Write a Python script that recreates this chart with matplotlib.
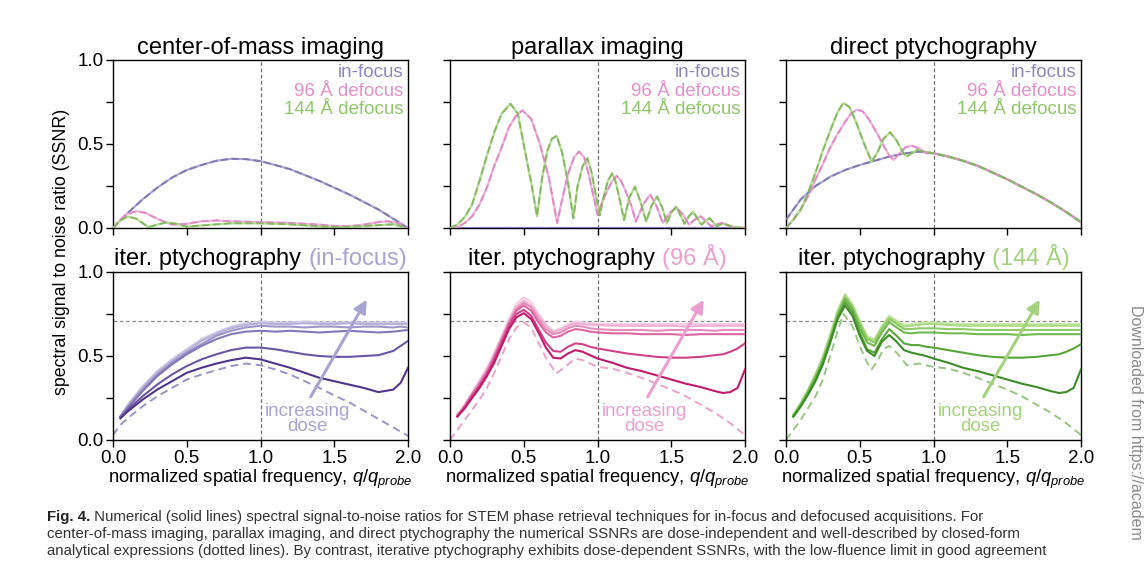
import matplotlib
matplotlib.use('Agg')
import matplotlib.pyplot as plt
from matplotlib.offsetbox import TextArea, HPacker, AnchoredOffsetbox

plt.rcParams['font.family'] = ['Liberation Sans', 'DejaVu Sans']
plt.rcParams['mathtext.fontset'] = 'custom'
plt.rcParams['mathtext.it'] = 'Liberation Sans:italic'
plt.rcParams['mathtext.rm'] = 'Liberation Sans'

# ---------------- data ----------------
# top row: center-of-mass imaging
com_x_if = [0.0, 0.1, 0.2, 0.3, 0.4, 0.5, 0.6, 0.7, 0.8, 0.9, 1.0, 1.1, 1.2, 1.3, 1.4, 1.5, 1.6, 1.7, 1.8, 1.9, 2.0]
com_y_if = [0.0, 0.09, 0.17, 0.24, 0.30, 0.345, 0.375, 0.40, 0.412, 0.41, 0.398, 0.375, 0.35, 0.315, 0.28, 0.24, 0.20, 0.155, 0.11, 0.055, 0.0]
com_x_96 = [0.0, 0.05, 0.1, 0.16, 0.22, 0.3, 0.4, 0.5, 0.6, 0.7, 0.8, 1.0, 1.2, 1.4, 1.5, 1.6, 1.7, 1.8, 1.86, 1.93, 2.0]
com_y_96 = [0.0, 0.05, 0.085, 0.10, 0.09, 0.055, 0.02, 0.025, 0.04, 0.045, 0.04, 0.035, 0.03, 0.02, 0.012, 0.01, 0.02, 0.035, 0.04, 0.03, 0.0]
com_x_144 = [0.0, 0.05, 0.1, 0.16, 0.24, 0.3, 0.36, 0.43, 0.5, 0.6, 0.8, 1.0, 1.2, 1.4, 1.55, 1.7, 1.9, 2.0]
com_y_144 = [0.0, 0.045, 0.068, 0.055, 0.005, 0.02, 0.033, 0.025, 0.008, 0.015, 0.028, 0.028, 0.022, 0.01, 0.005, 0.012, 0.022, 0.0]

# top row: parallax imaging
par_x_if = [0.0, 2.0]
par_y_if = [0.0, 0.0]
par_x_96 = [0.0, 0.05, 0.1, 0.15, 0.2, 0.25, 0.3, 0.35, 0.4, 0.45, 0.49, 0.55, 0.61, 0.67, 0.727,
            0.76, 0.80, 0.84, 0.875, 0.91, 0.94, 0.97, 1.0, 1.03, 1.065, 1.10, 1.13, 1.16, 1.195, 1.23,
            1.26, 1.31, 1.357, 1.40, 1.443, 1.49, 1.534, 1.58, 1.62, 1.66, 1.70, 1.77, 1.84, 1.92, 2.0]
par_y_96 = [0.0, 0.005, 0.03, 0.07, 0.14, 0.24, 0.37, 0.48, 0.60, 0.67, 0.70, 0.65, 0.50, 0.30, 0.03,
            0.17, 0.32, 0.42, 0.455, 0.42, 0.32, 0.20, 0.08, 0.15, 0.22, 0.28, 0.31, 0.28, 0.21, 0.13,
            0.038, 0.14, 0.20, 0.13, 0.03, 0.09, 0.123, 0.08, 0.02, 0.05, 0.07, 0.01, 0.03, 0.005, 0.0]
par_x_144 = [0.0, 0.05, 0.1, 0.15, 0.2, 0.25, 0.3, 0.35, 0.41, 0.46, 0.51, 0.555, 0.59, 0.625, 0.66,
             0.69, 0.723, 0.76, 0.80, 0.836, 0.865, 0.90, 0.932, 0.96, 0.99, 1.016, 1.04, 1.07, 1.10, 1.125,
             1.155, 1.18, 1.215, 1.254, 1.29, 1.33, 1.365, 1.404, 1.44, 1.47, 1.50, 1.534, 1.56, 1.59, 1.62,
             1.648, 1.675, 1.705, 1.73, 1.76, 1.81, 1.85, 1.92, 2.0]
par_y_144 = [0.0, 0.02, 0.065, 0.14, 0.28, 0.43, 0.57, 0.68, 0.74, 0.68, 0.45, 0.25, 0.07, 0.30, 0.46,
             0.53, 0.548, 0.45, 0.27, 0.058, 0.25, 0.37, 0.415, 0.33, 0.19, 0.077, 0.18, 0.28, 0.325, 0.27,
             0.15, 0.048, 0.18, 0.246, 0.16, 0.038, 0.13, 0.187, 0.12, 0.028, 0.09, 0.127, 0.08, 0.025, 0.07,
             0.097, 0.06, 0.02, 0.04, 0.058, 0.01, 0.028, 0.005, 0.0]

# top row: direct ptychography
dir_x_if = [0.0, 0.1, 0.2, 0.3, 0.4, 0.5, 0.6, 0.7, 0.8, 0.9, 1.0, 1.1, 1.2, 1.3, 1.4, 1.5, 1.6, 1.7, 1.8, 1.9, 2.0]
dir_y_if = [0.05, 0.17, 0.25, 0.305, 0.345, 0.375, 0.40, 0.425, 0.443, 0.455, 0.445, 0.425, 0.40, 0.37, 0.33, 0.29, 0.245, 0.20, 0.15, 0.095, 0.035]
dir_x_96 = [0.0, 0.05, 0.1, 0.15, 0.2, 0.25, 0.3, 0.35, 0.4, 0.44, 0.48, 0.52, 0.56, 0.6, 0.65, 0.7, 0.73,
            0.77, 0.81, 0.853, 0.9, 0.955, 1.0, 1.1, 1.2, 1.3, 1.4, 1.5, 1.6, 1.7, 1.8, 1.9, 2.0]
dir_y_96 = [0.0, 0.05, 0.11, 0.19, 0.29, 0.38, 0.48, 0.56, 0.63, 0.68, 0.705, 0.695, 0.65, 0.59, 0.51, 0.43, 0.405,
            0.445, 0.48, 0.49, 0.475, 0.445, 0.445, 0.425, 0.40, 0.37, 0.33, 0.29, 0.245, 0.20, 0.15, 0.095, 0.035]
dir_x_144 = [0.0, 0.05, 0.1, 0.15, 0.2, 0.25, 0.3, 0.35, 0.389, 0.43, 0.48, 0.53, 0.581, 0.62, 0.66, 0.706,
             0.75, 0.8, 0.82, 0.85, 0.887, 0.93, 1.0, 1.1, 1.2, 1.3, 1.4, 1.5, 1.6, 1.7, 1.8, 1.9, 2.0]
dir_y_144 = [0.0, 0.05, 0.11, 0.21, 0.33, 0.46, 0.58, 0.69, 0.745, 0.72, 0.62, 0.50, 0.395, 0.45, 0.53, 0.57,
             0.52, 0.44, 0.425, 0.445, 0.465, 0.455, 0.445, 0.425, 0.40, 0.37, 0.33, 0.29, 0.245, 0.20, 0.15, 0.095, 0.035]

# bottom row: iterative ptychography, in-focus
itf_x_an = [0.0, 0.05, 0.1, 0.2, 0.3, 0.4, 0.5, 0.6, 0.7, 0.8, 0.9, 1.0, 1.1, 1.2, 1.3, 1.4, 1.5, 1.6, 1.7, 1.8, 1.9, 2.0]
itf_y_an = [0.03, 0.09, 0.13, 0.20, 0.26, 0.31, 0.36, 0.39, 0.415, 0.44, 0.455, 0.445, 0.42, 0.39, 0.35, 0.31, 0.265, 0.225, 0.175, 0.125, 0.075, 0.025]
itf_x = [0.05, 0.1, 0.2, 0.3, 0.4, 0.5, 0.6, 0.7, 0.8, 0.9, 1.0, 1.1, 1.2, 1.3, 1.4, 1.5, 1.6, 1.7, 1.8, 1.9, 1.95, 2.0]
itf_dose = [
    [0.13, 0.17, 0.24, 0.30, 0.35, 0.40, 0.43, 0.455, 0.475, 0.49, 0.48, 0.455, 0.43, 0.40, 0.37, 0.35, 0.33, 0.31, 0.285, 0.30, 0.34, 0.43],
    [0.13, 0.18, 0.26, 0.33, 0.39, 0.44, 0.48, 0.51, 0.535, 0.55, 0.55, 0.54, 0.525, 0.51, 0.50, 0.495, 0.495, 0.50, 0.505, 0.53, 0.56, 0.59],
    [0.14, 0.19, 0.29, 0.38, 0.45, 0.51, 0.56, 0.60, 0.63, 0.645, 0.65, 0.645, 0.65, 0.645, 0.64, 0.645, 0.65, 0.645, 0.64, 0.645, 0.65, 0.655],
    [0.14, 0.20, 0.30, 0.39, 0.46, 0.52, 0.57, 0.62, 0.65, 0.67, 0.68, 0.675, 0.675, 0.67, 0.675, 0.675, 0.67, 0.675, 0.675, 0.67, 0.675, 0.67],
    [0.14, 0.20, 0.31, 0.40, 0.47, 0.53, 0.59, 0.63, 0.665, 0.685, 0.695, 0.69, 0.69, 0.695, 0.69, 0.69, 0.695, 0.69, 0.69, 0.69, 0.69, 0.69],
    [0.14, 0.21, 0.32, 0.41, 0.48, 0.54, 0.60, 0.64, 0.675, 0.695, 0.705, 0.70, 0.70, 0.705, 0.70, 0.70, 0.70, 0.70, 0.70, 0.70, 0.70, 0.70],
]

# bottom row: iterative ptychography, 96 A defocus
it96_x_an = [0.0, 0.05, 0.1, 0.15, 0.2, 0.25, 0.3, 0.35, 0.4, 0.45, 0.5, 0.55, 0.6, 0.65, 0.72, 0.8, 0.85, 0.9, 0.95, 1.0,
             1.1, 1.2, 1.3, 1.4, 1.5, 1.6, 1.7, 1.8, 1.9, 2.0]
it96_y_an = [0.0, 0.06, 0.12, 0.18, 0.24, 0.31, 0.40, 0.50, 0.60, 0.67, 0.70, 0.67, 0.58, 0.49, 0.395, 0.45, 0.485, 0.475, 0.455, 0.435,
             0.425, 0.40, 0.37, 0.335, 0.30, 0.26, 0.21, 0.16, 0.10, 0.03]
it_x = [0.05, 0.1, 0.15, 0.2, 0.25, 0.3, 0.35, 0.4, 0.45, 0.5, 0.55, 0.6, 0.65, 0.7, 0.75, 0.8, 0.85, 0.9, 0.95, 1.0,
        1.1, 1.2, 1.3, 1.4, 1.5, 1.6, 1.7, 1.8, 1.85, 1.9, 1.95, 2.0]
it96_dose = [
    [0.14, 0.19, 0.25, 0.31, 0.38, 0.46, 0.56, 0.66, 0.73, 0.755, 0.72, 0.64, 0.55, 0.49, 0.485, 0.515, 0.535, 0.525, 0.505, 0.485,
     0.46, 0.43, 0.41, 0.385, 0.36, 0.335, 0.315, 0.29, 0.28, 0.285, 0.31, 0.42],
    [0.14, 0.19, 0.26, 0.32, 0.39, 0.48, 0.58, 0.68, 0.75, 0.775, 0.74, 0.66, 0.58, 0.53, 0.525, 0.555, 0.575, 0.57, 0.555, 0.545,
     0.53, 0.515, 0.505, 0.495, 0.49, 0.49, 0.495, 0.505, 0.51, 0.525, 0.545, 0.575],
    [0.14, 0.20, 0.27, 0.33, 0.40, 0.49, 0.59, 0.69, 0.77, 0.80, 0.77, 0.70, 0.64, 0.61, 0.62, 0.645, 0.66, 0.655, 0.645, 0.64,
     0.635, 0.635, 0.63, 0.63, 0.63, 0.625, 0.63, 0.63, 0.63, 0.63, 0.63, 0.63],
    [0.15, 0.20, 0.27, 0.34, 0.41, 0.50, 0.60, 0.70, 0.78, 0.815, 0.79, 0.72, 0.66, 0.63, 0.64, 0.665, 0.68, 0.675, 0.665, 0.66,
     0.655, 0.655, 0.655, 0.65, 0.655, 0.655, 0.655, 0.65, 0.655, 0.655, 0.655, 0.655],
    [0.15, 0.21, 0.28, 0.35, 0.42, 0.51, 0.61, 0.71, 0.79, 0.83, 0.80, 0.74, 0.68, 0.64, 0.655, 0.68, 0.695, 0.69, 0.685, 0.685,
     0.68, 0.68, 0.68, 0.68, 0.68, 0.675, 0.68, 0.68, 0.68, 0.68, 0.68, 0.68],
    [0.15, 0.21, 0.28, 0.35, 0.43, 0.52, 0.62, 0.72, 0.81, 0.85, 0.82, 0.75, 0.69, 0.65, 0.665, 0.69, 0.705, 0.70, 0.695, 0.69,
     0.69, 0.69, 0.69, 0.69, 0.69, 0.69, 0.69, 0.69, 0.69, 0.69, 0.69, 0.69],
]

# bottom row: iterative ptychography, 144 A defocus
it144_x_an = [0.0, 0.05, 0.1, 0.15, 0.2, 0.25, 0.3, 0.35, 0.39, 0.45, 0.5, 0.55, 0.58, 0.62, 0.66, 0.7, 0.75, 0.82, 0.9, 1.0,
              1.1, 1.2, 1.3, 1.4, 1.5, 1.6, 1.7, 1.8, 1.9, 2.0]
it144_y_an = [0.0, 0.06, 0.12, 0.19, 0.26, 0.36, 0.50, 0.65, 0.75, 0.68, 0.56, 0.46, 0.42, 0.47, 0.54, 0.56, 0.52, 0.445, 0.455, 0.435,
              0.425, 0.40, 0.37, 0.335, 0.30, 0.26, 0.21, 0.16, 0.10, 0.03]
it144_dose = [
    [0.14, 0.20, 0.27, 0.35, 0.45, 0.58, 0.72, 0.80, 0.74, 0.62, 0.53, 0.50, 0.585, 0.625, 0.585, 0.535, 0.52, 0.51, 0.50, 0.485,
     0.46, 0.43, 0.41, 0.385, 0.36, 0.335, 0.315, 0.29, 0.28, 0.285, 0.31, 0.42],
    [0.14, 0.20, 0.28, 0.36, 0.46, 0.59, 0.73, 0.82, 0.76, 0.64, 0.54, 0.52, 0.60, 0.66, 0.62, 0.575, 0.565, 0.565, 0.555, 0.55,
     0.535, 0.52, 0.505, 0.495, 0.49, 0.49, 0.495, 0.505, 0.51, 0.525, 0.545, 0.57],
    [0.14, 0.21, 0.28, 0.37, 0.47, 0.60, 0.74, 0.84, 0.78, 0.67, 0.58, 0.56, 0.64, 0.70, 0.67, 0.64, 0.635, 0.64, 0.64, 0.64,
     0.635, 0.635, 0.63, 0.63, 0.63, 0.625, 0.63, 0.63, 0.63, 0.63, 0.63, 0.63],
    [0.15, 0.21, 0.29, 0.38, 0.48, 0.61, 0.75, 0.85, 0.79, 0.69, 0.60, 0.58, 0.66, 0.72, 0.69, 0.66, 0.66, 0.665, 0.665, 0.665,
     0.66, 0.66, 0.655, 0.655, 0.655, 0.655, 0.655, 0.655, 0.655, 0.655, 0.655, 0.655],
    [0.15, 0.22, 0.30, 0.39, 0.49, 0.62, 0.76, 0.86, 0.80, 0.70, 0.61, 0.59, 0.67, 0.73, 0.70, 0.675, 0.68, 0.685, 0.69, 0.69,
     0.685, 0.68, 0.68, 0.68, 0.68, 0.68, 0.68, 0.68, 0.68, 0.68, 0.68, 0.68],
    [0.15, 0.22, 0.30, 0.39, 0.50, 0.63, 0.77, 0.87, 0.81, 0.71, 0.62, 0.60, 0.68, 0.74, 0.71, 0.685, 0.69, 0.695, 0.70, 0.70,
     0.695, 0.69, 0.69, 0.69, 0.69, 0.69, 0.69, 0.69, 0.69, 0.69, 0.69, 0.69],
]

top_titles = ['center-of-mass imaging', 'parallax imaging', 'direct ptychography']
legend_labels = ['in-focus', '96 Å defocus', '144 Å defocus']
bottom_title_main = 'iter. ptychography'
bottom_title_tags = ['(in-focus)', '(96 Å)', '(144 Å)']
x_ticks = [0.0, 0.5, 1.0, 1.5, 2.0]
x_tick_labels = ['0.0', '0.5', '1.0', '1.5', '2.0']
y_ticks = [0.0, 0.5, 1.0]
y_tick_labels = ['0.0', '0.5', '1.0']
y_minor = [0.25, 0.75]
limit_level = 0.707

caption_lines = [
    ' Numerical (solid lines) spectral signal-to-noise ratios for STEM phase retrieval techniques for in-focus and defocused acquisitions. For',
    'center-of-mass imaging, parallax imaging, and direct ptychography the numerical SSNRs are dose-independent and well-described by closed-form',
    'analytical expressions (dotted lines). By contrast, iterative ptychography exhibits dose-dependent SSNRs, with the low-fluence limit in good agreement',
]
side_text = 'Downloaded from https://academ'

# ---------------- styles ----------------
col_solid = ['#aca6d6', '#f0b4dc', '#b4dc93']
col_dash = ['#7f7bab', '#dc8cc2', '#86b862']
col_leg = ['#8c88bf', '#e290c8', '#90c66b']
dose_cols = [
    ['#50358b', '#6a56a3', '#8478b6', '#9d94c7', '#b7b0d8', '#cdc8e6'],
    ['#c01a6a', '#d04288', '#db68a3', '#e68cbb', '#efafd0', '#f6cde3'],
    ['#3e8c2a', '#58a53b', '#72b94f', '#8fca66', '#abda85', '#c5e7a6'],
]
an_cols = ['#9a94c6', '#eaa2cb', '#9ac482']
tag_cols = ['#a8a3d0', '#eaa0cf', '#a3d27e']

W, H = 1148, 571
lefts = [113, 450, 786]
tops = [60, 272]
aw, ah = 295, 168
TITLE_FS = 17
TICK_FS = 13.5
LABEL_FS = 13.2
LEG_FS = 13.5

fig = plt.figure(figsize=(W / 100, H / 100), dpi=100)
fig.patch.set_facecolor('white')

def make_ax(col, row):
    l = lefts[col]
    t = tops[row]
    ax = fig.add_axes([l / W, 1 - (t + ah) / H, aw / W, ah / H])
    ax.set_xlim(0, 2)
    ax.set_ylim(0, 1)
    ax.set_xticks(x_ticks)
    ax.set_yticks(y_ticks)
    ax.set_yticks(y_minor, minor=True)
    ax.tick_params(axis='both', which='both', direction='out', length=5, width=1, labelsize=TICK_FS, pad=2)
    ax.tick_params(axis='x', which='minor', length=0)
    if row == 1:
        ax.set_xticklabels(x_tick_labels)
        ax.set_xlabel(r'normalized spatial frequency, $q/q_{probe}$', fontsize=LABEL_FS, labelpad=1)
    else:
        ax.set_xticklabels([])
    if col == 0:
        ax.set_yticklabels(y_tick_labels)
    else:
        ax.set_yticklabels([])
    for s in ax.spines.values():
        s.set_linewidth(1.0)
    ax.axvline(1.0, color='#6e6e6e', lw=0.9, ls=(0, (3, 2)), zorder=1)
    return ax

top_data = [
    [(com_x_if, com_y_if), (com_x_96, com_y_96), (com_x_144, com_y_144)],
    [(par_x_if, par_y_if), (par_x_96, par_y_96), (par_x_144, par_y_144)],
    [(dir_x_if, dir_y_if), (dir_x_96, dir_y_96), (dir_x_144, dir_y_144)],
]

for c in range(3):
    ax = make_ax(c, 0)
    ax.set_title(top_titles[c], fontsize=TITLE_FS, pad=4)
    for k in range(3):
        xs, ys = top_data[c][k]
        ax.plot(xs, ys, color=col_solid[k], lw=1.6, solid_capstyle='round', zorder=2)
    for k in range(3):
        xs, ys = top_data[c][k]
        ax.plot(xs, ys, color=col_dash[k], lw=1.3, ls=(0, (4, 2)), zorder=3)
    for k, (lab, yy) in enumerate(zip(legend_labels, [0.923, 0.812, 0.703])):
        ax.text(0.985, yy, lab, transform=ax.transAxes, ha='right', va='center',
                fontsize=LEG_FS, color=col_leg[k])

bottom_data = [
    (itf_x_an, itf_y_an, itf_x, itf_dose),
    (it96_x_an, it96_y_an, it_x, it96_dose),
    (it144_x_an, it144_y_an, it_x, it144_dose),
]

for c in range(3):
    ax = make_ax(c, 1)
    xa, ya, xs, doses = bottom_data[c]
    ax.axhline(limit_level, color='#8c8c8c', lw=0.9, ls=(0, (3, 2)), zorder=1)
    for i in range(len(doses) - 1, -1, -1):
        ax.plot(xs, doses[i], color=dose_cols[c][i], lw=1.5, zorder=3 + (6 - i) * 0.01)
    ax.plot(xa, ya, color=an_cols[c], lw=1.4, ls=(0, (4, 2.5)), zorder=2.5)
    ax.annotate('', xy=(1.72, 0.835), xytext=(1.34, 0.257),
                arrowprops=dict(arrowstyle='-|>,head_length=0.75,head_width=0.38',
                                color=tag_cols[c], lw=2.2, shrinkA=0, shrinkB=0), zorder=5)
    ax.text(1.32, 0.125, 'increasing\ndose', ha='center', va='center', fontsize=13.5,
            color=tag_cols[c], linespacing=0.9, zorder=6)
    t1 = TextArea(bottom_title_main, textprops=dict(fontsize=TITLE_FS, color='black'))
    t2 = TextArea(bottom_title_tags[c], textprops=dict(fontsize=TITLE_FS, color=tag_cols[c]))
    box = HPacker(children=[t1, t2], align='baseline', pad=0, sep=5)
    anc = AnchoredOffsetbox(loc='lower center', child=box, pad=0, borderpad=0.15, frameon=False,
                            bbox_to_anchor=(0.5, 1.0), bbox_transform=ax.transAxes)
    ax.add_artist(anc)

fig.text(62 / W, 1 - 252 / H, 'spectral signal to noise ratio (SSNR)', rotation=90,
         ha='center', va='center', fontsize=12.8)

# caption
CAP_FS = 10.8
renderer = fig.canvas.get_renderer()
cap_x = 47 / W
cap_ys = [517, 534, 551]
tb = fig.text(cap_x, 1 - cap_ys[0] / H, 'Fig. 4.', fontsize=CAP_FS, fontweight='bold', color='#222222', va='center')
wpx = tb.get_window_extent(renderer).width
fig.text(cap_x + wpx / W, 1 - cap_ys[0] / H, caption_lines[0], fontsize=CAP_FS, color='#333333', va='center')
for line, yy in zip(caption_lines[1:], cap_ys[1:]):
    fig.text(cap_x, 1 - yy / H, line, fontsize=CAP_FS, color='#333333', va='center')

fig.text(1136 / W, 1 - 305 / H, side_text, rotation=270,
         ha='center', va='top', fontsize=11.5, color='#8a8a8a')

fig.savefig('out.png', dpi=100)
